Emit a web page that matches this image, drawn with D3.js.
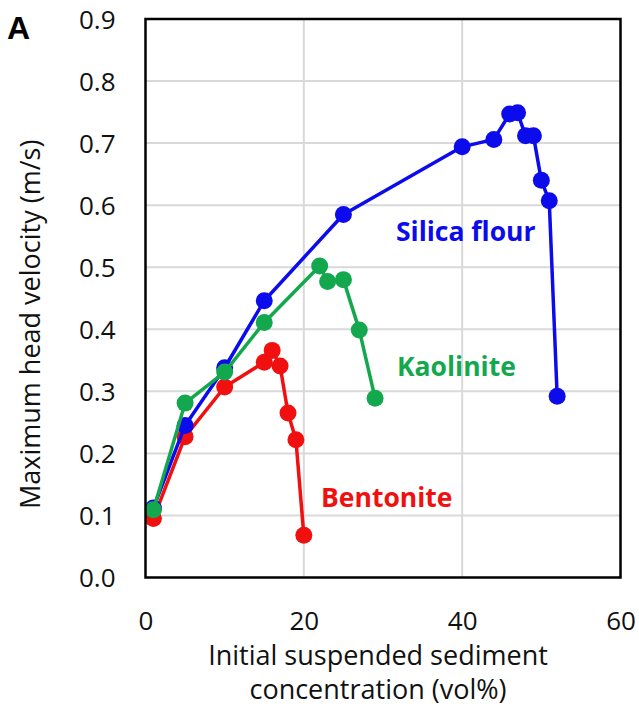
<!DOCTYPE html>
<html>
<head>
<meta charset="utf-8">
<script src="https://cdn.jsdelivr.net/npm/d3@7"></script>
<style>
  html, body { margin: 0; padding: 0; background: #fff; }
  svg { display: block; }
</style>
</head>
<body>
<svg id="chart" width="639" height="711"></svg>
<script>
// Initial suspended sediment concentration (vol%) and maximum head velocity (m/s)
const bentoniteConc = [1, 5, 10, 15, 16, 17, 18, 19, 20];
const bentoniteVel  = [0.095, 0.227, 0.307, 0.347, 0.366, 0.341, 0.265, 0.222, 0.068];

const silicaConc = [1, 5, 10, 15, 25, 40, 44, 46, 47, 48, 49, 50, 51, 52];
const silicaVel  = [0.112, 0.245, 0.338, 0.446, 0.585, 0.694, 0.706, 0.747, 0.749, 0.712, 0.712, 0.640, 0.607, 0.292];

const kaoliniteConc = [1, 5, 10, 15, 22, 23, 25, 27, 29];
const kaoliniteVel  = [0.109, 0.281, 0.331, 0.411, 0.502, 0.477, 0.480, 0.399, 0.289];

const xTicks = [0, 20, 40, 60];
const yTicks = [0, 0.1, 0.2, 0.3, 0.4, 0.5, 0.6, 0.7, 0.8, 0.9];

// Series drawn in stacking order (later ones sit on top)
const series = [
  { name: "Bentonite",    conc: bentoniteConc, vel: bentoniteVel, color: "#f01010", label: [321, 507] },
  { name: "Silica flour", conc: silicaConc,    vel: silicaVel,    color: "#0b0bec", label: [396, 241] },
  { name: "Kaolinite",    conc: kaoliniteConc, vel: kaoliniteVel, color: "#13a84e", label: [397, 376] }
];

const svg = d3.select("#chart");
const plot = { left: 145.5, right: 620.5, top: 19, bottom: 577.5 };

const x = d3.scaleLinear().domain([0, 60]).range([plot.left, plot.right]);
const y = d3.scaleLinear().domain([0, 0.9]).range([plot.bottom, plot.top]);

const textFont = "'Open Sans', 'DejaVu Sans', sans-serif";

// Gridlines
const grid = svg.append("g").attr("class", "grid");
grid.selectAll("line.h")
  .data(yTicks.filter(t => t > 0 && t < 0.9))
  .join("line")
  .attr("x1", plot.left).attr("x2", plot.right)
  .attr("y1", d => y(d)).attr("y2", d => y(d))
  .attr("stroke", "#d9d9d9").attr("stroke-width", 2);
grid.selectAll("line.v")
  .data(xTicks.filter(t => t > 0 && t < 60))
  .join("line")
  .attr("y1", plot.top).attr("y2", plot.bottom)
  .attr("x1", d => x(d)).attr("x2", d => x(d))
  .attr("stroke", "#d9d9d9").attr("stroke-width", 2);

// Axes: tick labels only, the frame is drawn separately
const yAxis = d3.axisLeft(y).tickValues(yTicks).tickFormat(d3.format(".1f")).tickSize(0).tickPadding(0);
const gy = svg.append("g").attr("transform", `translate(${plot.left - 30},0)`).call(yAxis);
gy.select(".domain").remove();
gy.selectAll("text")
  .attr("font-family", textFont).attr("font-size", 26).attr("fill", "#111")
  .attr("dy", "0.35em");

const xAxis = d3.axisBottom(x).tickValues(xTicks).tickFormat(d3.format("d")).tickSize(0).tickPadding(0);
const gx = svg.append("g").attr("transform", `translate(0,${plot.bottom + 43})`).call(xAxis);
gx.select(".domain").remove();
gx.selectAll("text")
  .attr("font-family", textFont).attr("font-size", 26).attr("fill", "#111")
  .attr("dy", "0.35em");

// Series lines and markers
const line = d3.line().x(d => x(d[0])).y(d => y(d[1]));
series.forEach(s => {
  const pts = s.conc.map((c, i) => [c, s.vel[i]]);
  const g = svg.append("g").attr("class", "series");
  g.append("path")
    .datum(pts)
    .attr("d", line)
    .attr("fill", "none")
    .attr("stroke", s.color)
    .attr("stroke-width", 3.5)
    .attr("stroke-linejoin", "round");
  g.selectAll("circle")
    .data(pts)
    .join("circle")
    .attr("cx", d => x(d[0]))
    .attr("cy", d => y(d[1]))
    .attr("r", 8.5)
    .attr("fill", s.color);
  svg.append("text")
    .attr("x", s.label[0]).attr("y", s.label[1])
    .attr("font-family", textFont).attr("font-weight", "bold")
    .attr("font-size", 26.5).attr("fill", s.color)
    .text(s.name);
});

// Plot frame
svg.append("rect")
  .attr("x", plot.left).attr("y", plot.top)
  .attr("width", plot.right - plot.left).attr("height", plot.bottom - plot.top)
  .attr("fill", "none").attr("stroke", "#000").attr("stroke-width", 2.5);

// Axis titles
svg.append("text")
  .attr("transform", `translate(31,${(plot.top + plot.bottom) / 2 + 26}) rotate(-90)`)
  .attr("text-anchor", "middle").attr("dy", "0.35em")
  .attr("font-family", textFont).attr("font-size", 27).attr("fill", "#111")
  .text("Maximum head velocity (m/s)");

const xTitle = svg.append("text")
  .attr("text-anchor", "middle")
  .attr("font-family", textFont).attr("font-size", 27).attr("fill", "#111");
xTitle.append("tspan").attr("x", 378).attr("y", 665).text("Initial suspended sediment");
xTitle.append("tspan").attr("x", 378).attr("y", 699).text("concentration (vol%)");

// Panel letter
svg.append("text")
  .attr("x", 7).attr("y", 39)
  .attr("font-family", "'Liberation Sans', Arial, sans-serif").attr("font-weight", "bold")
  .attr("font-size", 32).attr("fill", "#000")
  .text("A");
</script>
</body>
</html>
